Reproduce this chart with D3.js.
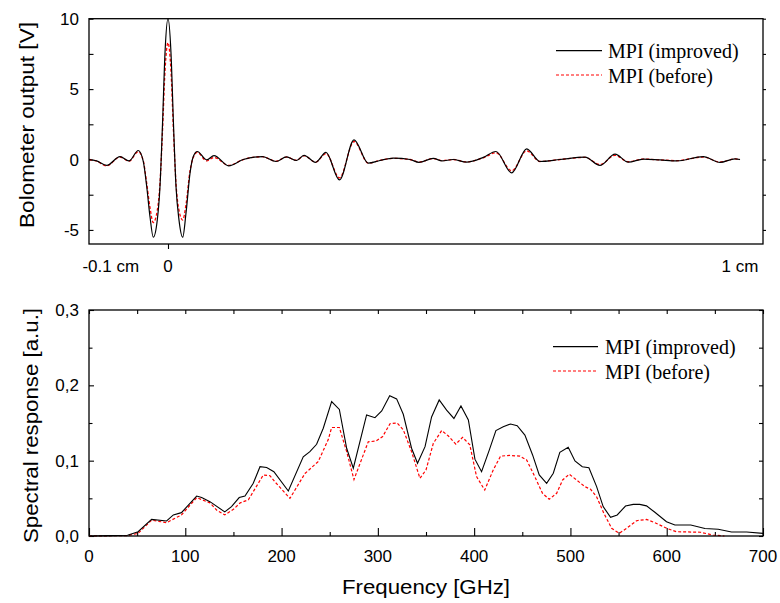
<!DOCTYPE html>
<html><head><meta charset="utf-8">
<script src="https://cdn.jsdelivr.net/npm/d3@7"></script>
<style>
html,body{margin:0;padding:0;background:#fff;}
svg{display:block;}
.tk{font-family:Arial,"Liberation Sans",sans-serif;font-size:17px;fill:#000;}
.ttl{font-family:Arial,"Liberation Sans",sans-serif;font-size:20px;fill:#000;}
.lg{font-family:"Times New Roman","Liberation Serif",serif;font-size:20px;fill:#000;}
</style></head>
<body>
<script>
// ---------- Top panel: interferogram (optical path difference in cm, bolometer output in V)
const opd = [-0.1381,-0.1247,-0.1072,-0.0839,-0.0682,-0.0519,-0.0432,-0.0372,-0.0315,-0.0257,-0.0187,-0.0140,-0.0096,-0.0052,0,0.0052,0.0096,0.0140,0.0192,0.0257,0.0315,0.0385,0.0442,0.0512,0.0677,0.0804,0.1061,0.1316,0.1652,0.1888,0.2072,0.2247,0.2378,0.2579,0.2762,0.2998,0.3252,0.3502,0.3706,0.3939,0.4231,0.4388,0.4638,0.4790,0.4983,0.5222,0.5512,0.5734,0.6009,0.6271,0.6503,0.6853,0.7290,0.7552,0.7815,0.8047,0.8310,0.8601,0.8893,0.9358,0.9650,0.9913,1.0];
const boloImproved = [0,-0.1,-0.42,0.21,-0.1,0.64,-0.14,-1.92,-4.05,-5.52,-4.29,-1.92,2.5,7.6,10.0,7.6,2.5,-1.92,-4.29,-5.52,-3.8,-0.97,0.21,0.57,-0.02,0.28,-0.45,0.0,0.21,-0.14,0.19,-0.07,0.3,-0.2,0.5,-1.45,1.4,-0.26,-0.07,0.1,0.0,-0.2,0.08,-0.1,0.0,-0.19,0.15,0.57,-0.95,0.76,-0.14,0.0,0.17,-0.42,0.38,-0.19,0.03,-0.03,-0.1,0.21,-0.21,0.05,0.0];
const boloBefore = [0,-0.12,-0.45,0.18,-0.12,0.55,-0.1,-1.7,-3.4,-4.48,-3.6,-1.7,2.0,6.3,8.3,6.3,2.0,-1.7,-3.6,-4.3,-3.2,-0.8,0.15,0.5,-0.1,0.15,-0.42,0.0,0.2,-0.12,0.17,-0.06,0.27,-0.18,0.42,-1.3,1.28,-0.25,-0.06,0.08,0.0,-0.18,0.07,-0.08,0.0,-0.17,0.12,0.48,-0.8,0.62,-0.14,0.0,0.15,-0.36,0.3,-0.16,0.03,-0.03,-0.08,0.18,-0.18,0.04,0.0];
const topXTicks = [-0.1, 0, 1];
const topXTickLabels = ["-0.1 cm", "0", "1 cm"];
const topYTicks = [-5, 0, 5, 10];
const topYMinor = [-2.5, 2.5, 7.5];

// ---------- Bottom panel: spectral response
const freqImproved = [0,20,40,51,65,80.6,87.6,96,111.8,117,125.6,141,148,156,162,170.6,177.6,184.5,192,207,222.5,229.4,236.4,243.3,252,260,267.6,274.5,288.3,297,304,312.3,319.5,326.4,335,341.2,349,355.8,363.7,371.4,379,386.3,394,400.8,407.7,415.7,422.6,430.2,437.8,444.7,452.7,460.7,467.6,475.3,482.2,489,497.7,504.7,512.3,519.2,527.2,534,541.7,548.6,557.2,565.2,572,579,587.7,599.8,608.5,625,639.7,653.5,667.3,683,700];
const specImproved = [0,0.0005,0.001,0.0057,0.022,0.020,0.028,0.031,0.053,0.051,0.0456,0.032,0.039,0.051,0.053,0.070,0.092,0.091,0.0854,0.0597,0.105,0.112,0.1217,0.143,0.1785,0.168,0.1165,0.090,0.1607,0.157,0.166,0.1863,0.182,0.1616,0.1165,0.0965,0.1186,0.158,0.1806,0.167,0.156,0.1726,0.154,0.102,0.0854,0.114,0.140,0.145,0.1487,0.1465,0.134,0.1076,0.081,0.070,0.0833,0.111,0.1178,0.0996,0.092,0.0907,0.0655,0.039,0.0248,0.0279,0.0398,0.042,0.042,0.040,0.0315,0.019,0.0146,0.0146,0.010,0.0089,0.0053,0.0053,0.0035];
const freqBefore = [0,40,51,65,80.6,96,111.8,125.6,132.5,141,150,157,165.5,181,188,193,208.7,224.3,238,248.5,252,260,267.6,275.2,290,298,305,312.6,320,326.4,335,343.7,350,357.6,366.3,373,381,388,395.5,402.5,411,419.8,427.4,437,447.6,454.5,463,471,478,485.7,491.9,498.8,506.4,515,521,527.2,534.8,542.8,550.7,558.4,568.7,579,587.7,600,610,635,648,660];
const specBefore = [0,0.0005,0.0035,0.021,0.0177,0.028,0.051,0.044,0.0345,0.028,0.0354,0.044,0.048,0.081,0.080,0.072,0.050,0.083,0.0987,0.128,0.144,0.144,0.112,0.075,0.125,0.126,0.132,0.149,0.150,0.141,0.112,0.0766,0.0876,0.123,0.140,0.133,0.122,0.131,0.121,0.0788,0.061,0.0876,0.106,0.107,0.106,0.101,0.0788,0.0567,0.0487,0.0567,0.0744,0.082,0.0744,0.0655,0.062,0.052,0.030,0.0102,0.0035,0.0102,0.0203,0.022,0.0177,0.0102,0.0057,0.005,0.0013,0];
const botXTicks = [0,100,200,300,400,500,600,700];
const botYTicks = [0,0.1,0.2,0.3];
const botYTickLabels = ["0,0","0,1","0,2","0,3"];
const seriesNames = ["MPI (improved)", "MPI (before)"];

const W = 780, H = 603;
const svg = d3.select("body").append("svg").attr("width", W).attr("height", H);

// ================= TOP PANEL =================
const tx = d3.scaleLinear().domain([-0.1381, 1.0402]).range([89, 763]);
const ty = d3.scaleLinear().domain([-6, 10]).range([244, 18.7]);
const gT = svg.append("g");

// left axis (ticks inward)
gT.append("g").attr("transform","translate(89,0)")
  .call(d3.axisRight(ty).tickValues(topYTicks.concat(topYMinor)).tickSize(4.5).tickFormat(""))
  .call(g=>{g.select(".domain").remove(); g.selectAll("line").attr("stroke","#000").attr("stroke-width",1.1);});
// right axis (ticks outward)
gT.append("g").attr("transform","translate(763,0)")
  .call(d3.axisRight(ty).tickValues(topYTicks.concat(topYMinor)).tickSize(3).tickFormat(""))
  .call(g=>{g.select(".domain").remove(); g.selectAll("line").attr("stroke","#000").attr("stroke-width",1.1);});
// y tick labels
gT.append("g").selectAll("text").data(topYTicks).join("text")
  .attr("class","tk").attr("x",79).attr("y",d=>ty(d)).attr("dy","0.36em")
  .attr("text-anchor","end").text(d=>d);
// bottom tick at 0
gT.append("g").attr("transform","translate(0,244)")
  .call(d3.axisBottom(tx).tickValues([0]).tickSize(5).tickFormat(""))
  .call(g=>{g.select(".domain").remove(); g.selectAll("line").attr("stroke","#000").attr("stroke-width",1.1);});
gT.append("g").selectAll("text").data(topXTicks).join("text")
  .attr("class","tk").attr("x",d=>tx(d)).attr("y",272).attr("text-anchor","middle")
  .text((d,i)=>topXTickLabels[i]);

// curves
const topLine = vals => d3.line().x((d,i)=>tx(opd[i])).y(d=>ty(d)).curve(d3.curveMonotoneX)(vals);
gT.append("path").attr("d", topLine(boloBefore)).attr("fill","none")
  .attr("stroke","#ff0000").attr("stroke-width",1.3).attr("stroke-dasharray","3,2");
gT.append("path").attr("d", topLine(boloImproved)).attr("fill","none")
  .attr("stroke","#000").attr("stroke-width",1.2);

// frame
gT.append("rect").attr("x",89).attr("y",18.7).attr("width",674).attr("height",225.3)
  .attr("fill","none").attr("stroke","#000").attr("stroke-width",1.3);

// y title
gT.append("text").attr("class","ttl").attr("transform","translate(34,125) rotate(-90)")
  .attr("text-anchor","middle").attr("textLength",206).attr("lengthAdjust","spacingAndGlyphs")
  .text("Bolometer output [V]");

// legend
const legT = gT.append("g");
legT.append("line").attr("x1",556).attr("x2",602).attr("y1",50.7).attr("y2",50.7).attr("stroke","#000").attr("stroke-width",1.2);
legT.append("text").attr("class","lg").attr("x",608).attr("y",57.5).text(seriesNames[0]);
legT.append("line").attr("x1",556).attr("x2",602).attr("y1",75).attr("y2",75).attr("stroke","#ff0000").attr("stroke-width",1.2).attr("stroke-dasharray","3,2");
legT.append("text").attr("class","lg").attr("x",608).attr("y",82.5).text(seriesNames[1]);

// ================= BOTTOM PANEL =================
const bx = d3.scaleLinear().domain([0,700]).range([89,763]);
const by = d3.scaleLinear().domain([0,0.3]).range([536,310]);
const gB = svg.append("g");
const styleT = g=>{g.select(".domain").remove(); g.selectAll("line").attr("stroke","#000").attr("stroke-width",1.1);};
const xMinor = d3.range(50,700,100);
const xAll = d3.range(0,701,50);
const yMinor = [0.05,0.15,0.25];
const yAll = [0,0.05,0.1,0.15,0.2,0.25,0.3];

// bottom ticks (inward)
gB.append("g").attr("transform","translate(0,536)").call(d3.axisTop(bx).tickValues(botXTicks).tickSize(8).tickFormat("")).call(styleT);
gB.append("g").attr("transform","translate(0,536)").call(d3.axisTop(bx).tickValues(xMinor).tickSize(4).tickFormat("")).call(styleT);
// top ticks (inward)
gB.append("g").attr("transform","translate(0,310)").call(d3.axisBottom(bx).tickValues(xAll).tickSize(4).tickFormat("")).call(styleT);
// left ticks (inward)
gB.append("g").attr("transform","translate(89,0)").call(d3.axisRight(by).tickValues(botYTicks).tickSize(5).tickFormat("")).call(styleT);
gB.append("g").attr("transform","translate(89,0)").call(d3.axisRight(by).tickValues(yMinor).tickSize(3.5).tickFormat("")).call(styleT);
// right ticks (inward)
gB.append("g").attr("transform","translate(763,0)").call(d3.axisLeft(by).tickValues(yAll).tickSize(4).tickFormat("")).call(styleT);

// tick labels
gB.append("g").selectAll("text").data(botXTicks).join("text")
  .attr("class","tk").attr("x",d=>bx(d)).attr("y",562).attr("text-anchor","middle").text(d=>d);
gB.append("g").selectAll("text").data(botYTicks).join("text")
  .attr("class","tk").attr("x",79).attr("y",d=>by(d)).attr("dy","0.36em").attr("text-anchor","end")
  .text((d,i)=>botYTickLabels[i]);

// lines
const botLine = (fx, vals) => d3.line().x((d,i)=>bx(fx[i])).y(d=>by(d))(vals);
gB.append("path").attr("d", botLine(freqBefore, specBefore)).attr("fill","none")
  .attr("stroke","#ff0000").attr("stroke-width",1.2).attr("stroke-dasharray","3,2");
gB.append("path").attr("d", botLine(freqImproved, specImproved)).attr("fill","none")
  .attr("stroke","#000").attr("stroke-width",1.1);

// frame
gB.append("rect").attr("x",89).attr("y",310).attr("width",674).attr("height",226)
  .attr("fill","none").attr("stroke","#000").attr("stroke-width",1.3);

// titles
gB.append("text").attr("class","ttl").attr("x",426).attr("y",594).attr("text-anchor","middle")
  .attr("textLength",168).attr("lengthAdjust","spacingAndGlyphs").text("Frequency [GHz]");
gB.append("text").attr("class","ttl").attr("transform","translate(38,425.5) rotate(-90)")
  .attr("text-anchor","middle").attr("textLength",235).attr("lengthAdjust","spacingAndGlyphs")
  .text("Spectral response [a.u.]");

// legend
const legB = gB.append("g");
legB.append("line").attr("x1",553).attr("x2",598).attr("y1",346.7).attr("y2",346.7).attr("stroke","#000").attr("stroke-width",1.2);
legB.append("text").attr("class","lg").attr("x",605).attr("y",354).text(seriesNames[0]);
legB.append("line").attr("x1",553).attr("x2",598).attr("y1",371).attr("y2",371).attr("stroke","#ff0000").attr("stroke-width",1.2).attr("stroke-dasharray","3,2");
legB.append("text").attr("class","lg").attr("x",605).attr("y",379).text(seriesNames[1]);
</script>
</body></html>
